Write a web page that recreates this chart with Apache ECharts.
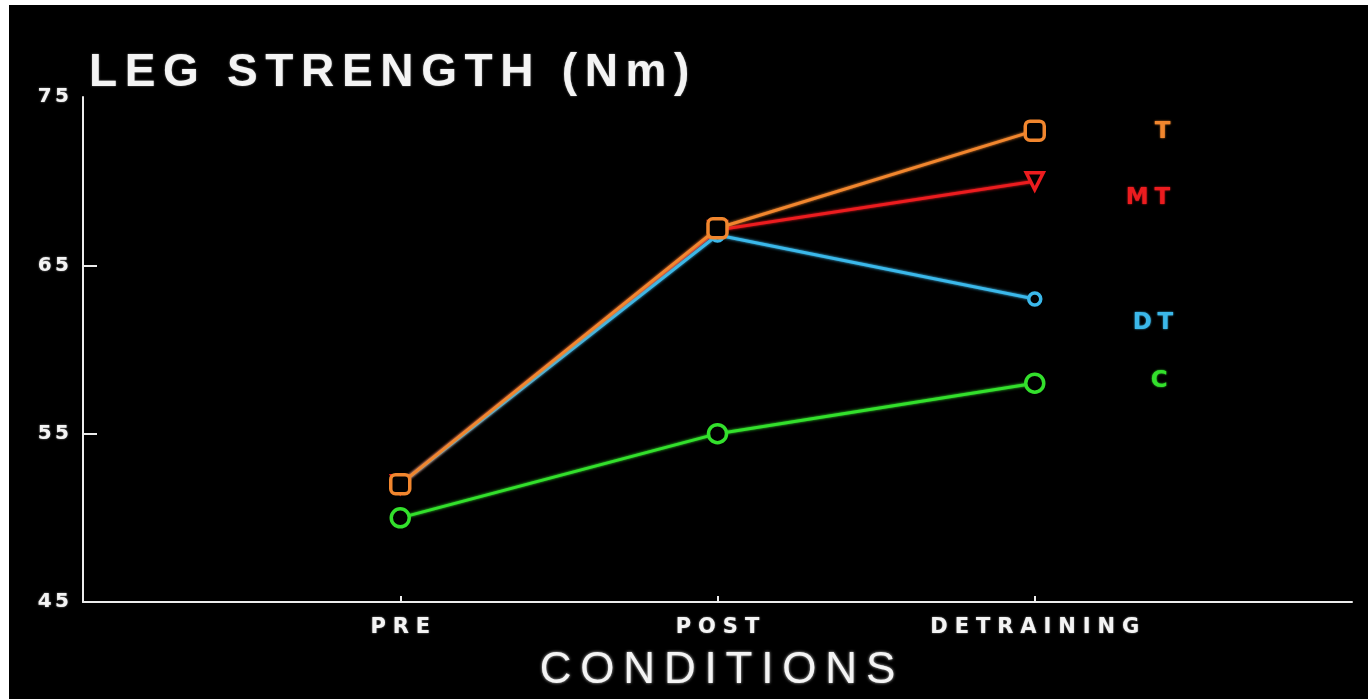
<!DOCTYPE html>
<html>
<head>
<meta charset="utf-8">
<script src="https://cdn.jsdelivr.net/npm/echarts@6/dist/echarts.min.js"></script>
<style>
  html, body { margin: 0; padding: 0; background: #fff; width: 1368px; height: 699px; overflow: hidden; }
  #chart { position: absolute; left: 9px; top: 5px; width: 1359px; height: 694px; background: #000; }
</style>
</head>
<body>
<div id="chart"></div>
<script>
// Conditions along the x axis and leg strength (Nm) per group
const categories = ['PRE', 'POST', 'DETRAINING'];
const yTicks = [45, 55, 65, 75];
const tValues  = [52, 67.2, 73];
const mtValues = [52, 67.1, 70];
const dtValues = [52, 66.8, 63];
const cValues  = [50, 55, 58];
const titleText = 'LEG STRENGTH (Nm)';
const xAxisTitle = 'CONDITIONS';

const FONT = 'Liberation Sans';
const WIDE_FONT = 'DejaVu Sans';
const AXIS_COLOR = '#ececec';
const TEXT_COLOR = '#f4f4f4';

// wide, letter-spaced lettering
const spread = (s, gap) => Array.from(s).join(gap);

function groupLine(name, values, color, symbol, size, rotate, labelOffset, z) {
  return {
    type: 'line',
    name: name,
    z: z,
    data: values.map((v, i) => [i + 1, v]),
    symbol: symbol,
    symbolSize: size,
    symbolRotate: rotate,
    showAllSymbol: true,
    lineStyle: { color: color, width: 3, shadowColor: color, shadowBlur: 3 },
    itemStyle: { color: '#000', borderColor: color, borderWidth: 3.5 },
    endLabel: {
      show: true,
      formatter: () => spread(name, '\u2005'),
      color: color,
      fontFamily: WIDE_FONT,
      fontWeight: 'bold',
      fontSize: 23,
      textShadowColor: color,
      textShadowBlur: 2,
      offset: labelOffset
    },
    emphasis: { disabled: true },
    animation: false
  };
}

const chart = echarts.init(document.getElementById('chart'), null, { renderer: 'canvas' });

chart.setOption({
  backgroundColor: '#000',
  animation: false,
  title: {
    text: spread(titleText, '\u2006'),
    left: 75,
    top: 40,
    textStyle: {
      color: TEXT_COLOR, fontSize: 46, fontFamily: FONT, fontWeight: 'bold',
      textShadowColor: 'rgba(255,255,255,0.5)', textShadowBlur: 2
    }
  },
  grid: { left: 74, right: 16, top: 92, bottom: 97 },
  xAxis: {
    type: 'value',
    min: 0,
    max: 4,
    splitLine: { show: false },
    axisLine: { show: true, onZero: false, lineStyle: { color: AXIS_COLOR, width: 2 } },
    axisTick: { show: true, inside: true, length: 6, customValues: [1, 2, 3], lineStyle: { color: AXIS_COLOR, width: 2 } },
    axisLabel: {
      customValues: [1, 2, 3],
      formatter: v => spread(categories[v - 1], '\u2004'),
      color: TEXT_COLOR, fontFamily: WIDE_FONT, fontWeight: 'bold', fontSize: 21, margin: 15,
      textShadowColor: 'rgba(255,255,255,0.6)', textShadowBlur: 2
    },
    name: spread(xAxisTitle, '\u2009'),
    nameLocation: 'middle',
    nameGap: 47,
    nameTextStyle: {
      color: TEXT_COLOR, fontSize: 44, fontFamily: FONT, fontWeight: 'normal',
      textShadowColor: 'rgba(255,255,255,0.8)', textShadowBlur: 3
    }
  },
  yAxis: {
    type: 'value',
    min: 45,
    max: 75,
    interval: 10,
    splitLine: { show: false },
    axisLine: { show: true, lineStyle: { color: AXIS_COLOR, width: 2 } },
    axisTick: { show: true, inside: true, length: 14, customValues: [55, 65], lineStyle: { color: AXIS_COLOR, width: 2 } },
    axisLabel: {
      customValues: yTicks,
      formatter: v => spread(String(v), '\u2006'),
      color: TEXT_COLOR, fontFamily: WIDE_FONT, fontWeight: 'bold', fontSize: 20, margin: 14,
      textShadowColor: 'rgba(255,255,255,0.6)', textShadowBlur: 2
    }
  },
  series: [
    groupLine('C',  cValues,  '#33e02c', 'circle',    18, 0,   [108, -2], 2),
    groupLine('MT', mtValues, '#ec1c1f', 'triangle',  17, 180, [83, 17],  3),
    groupLine('DT', dtValues, '#3bb8ea', 'circle',    12, 0,   [90, 24],  4),
    groupLine('T',  tValues,  '#f1862e', 'roundRect', 19, 0,   [112, 1],  5)
  ]
});
</script>
</body>
</html>
